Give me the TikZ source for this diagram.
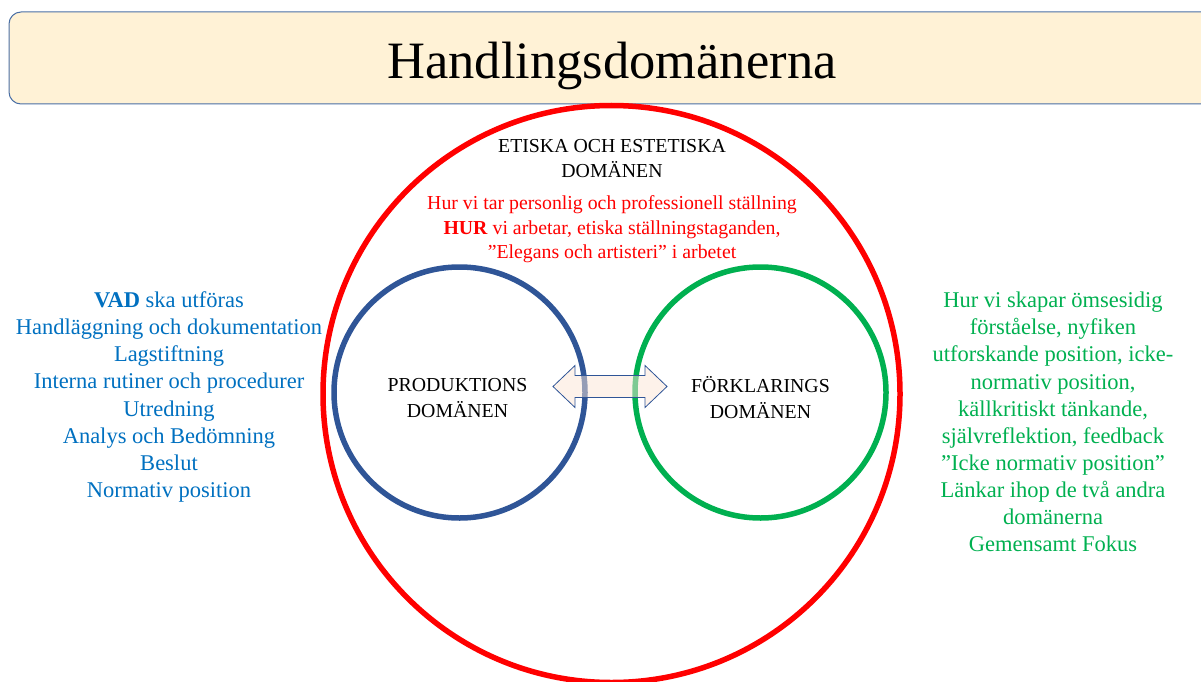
\documentclass[tikz,border=0pt]{standalone}
\usepackage{fontspec}
\setmainfont{Liberation Serif}
\usetikzlibrary{positioning, calc}
\definecolor{titlefill}{HTML}{FFF2D6}
\definecolor{titleline}{HTML}{4A6FA5}
\definecolor{prodblue}{HTML}{2F5597}
\definecolor{listblue}{HTML}{0070C0}
\definecolor{explgreen}{HTML}{00B050}
\definecolor{arrowfill}{HTML}{FBE5D6}

\begin{document}
\begin{tikzpicture}[
  x=1pt, y=-1pt,
  ring/.style={draw, circle, line width=5.5pt, align=center, font=\fontsize{19.8}{26}\selectfont},
  list/.style={align=center, font=\fontsize{22.5}{27.1}\selectfont},
  heading/.style={align=center, font=\fontsize{19.8}{24.6}\selectfont},
  twoway/.style={draw=prodblue, line width=0.8pt, fill=arrowfill, fill opacity=0.5}
]
  \useasboundingbox (0,0) rectangle (1201,682);
  \clip (0,0) rectangle (1201,682);

  \node[draw=titleline, fill=titlefill, rounded corners=12pt, line width=1pt, minimum width=1206pt, minimum height=92pt] (titlebar) at (612,58) {};
  \node[font=\fontsize{52.5}{60}\selectfont] (title) at (612,66) {Handlingsdomänerna};

  \node[ring, draw=red, minimum size=577pt] (ethics) at (611.5,394) {};
  \node[ring, draw=prodblue, minimum size=251pt] (prod) at (459.5,392.5) {};
  \node[ring, draw=explgreen, minimum size=251pt] (expl) at (760.5,392.5) {};
  \node[ring, draw=none] (prodname) at (457.5,398) {PRODUKTIONS\\DOMÄNEN};
  \node[ring, draw=none] (explname) at (760.5,398) {FÖRKLARINGS\\DOMÄNEN};

  \node[heading] (ethhead) at (612,158.5) {ETISKA OCH ESTETISKA\\DOMÄNEN};
  \node[heading, text=red] (ethtext) at (612,229.5) {Hur vi tar personlig och professionell ställning\\\textbf{HUR} vi arbetar, etiska ställningstaganden,\\”Elegans och artisteri” i arbetet};

  \node[list, text=listblue] (prodtext) at (169,397) {\textbf{VAD} ska utföras\\Handläggning och dokumentation\\Lagstiftning\\Interna rutiner och procedurer\\Utredning\\Analys och Bedömning\\Beslut\\Normativ position};
  \node[list, text=explgreen] (expltext) at (1053,422) {Hur vi skapar ömsesidig\\förståelse, nyfiken\\utforskande position, icke-\\normativ position,\\källkritiskt tänkande,\\självreflektion, feedback\\”Icke normativ position”\\Länkar ihop de två andra\\domänerna\\Gemensamt Fokus};

  % double arrow between the two domains
  \coordinate (mid) at (610,386.5);
  \draw[twoway] ($(mid)+(-57,0)$) -- ++(22,-21) -- ++(0,10) -- ++(70,0) -- ++(0,-10) -- ++(22,21)
    -- ++(-22,21) -- ++(0,-10) -- ++(-70,0) -- ++(0,10) -- cycle;
\end{tikzpicture}
\end{document}
